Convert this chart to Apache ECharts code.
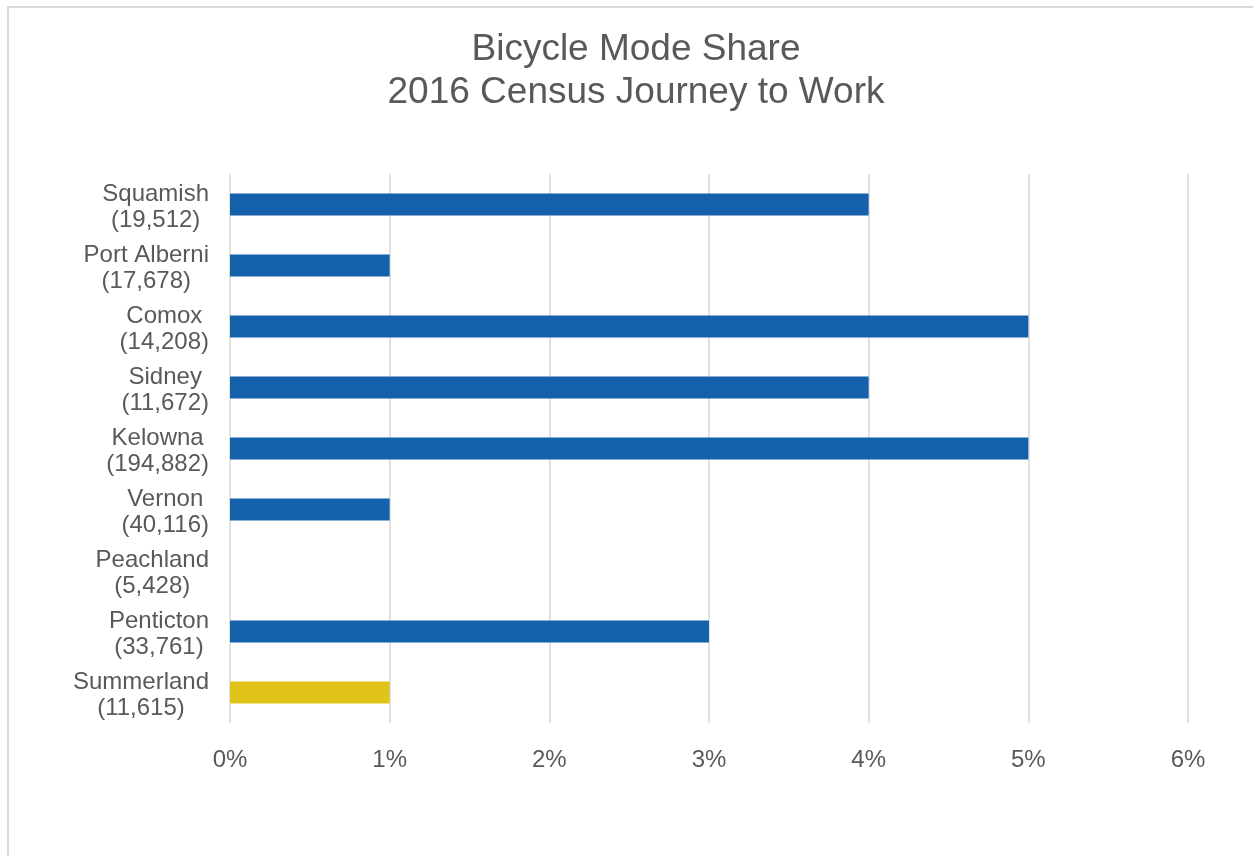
<!DOCTYPE html>
<html>
<head>
    <title>Bicycle Mode Share</title>
    <script src="https://cdn.jsdelivr.net/npm/echarts/dist/echarts.min.js"></script>
    <style>
        body { margin: 0; background: #fff; }
        #frame { position: absolute; left: 7px; top: 6px; width: 1260px; height: 870px; border: 2px solid #d9d9d9; box-sizing: border-box; }
        #main { position: absolute; left: 0; top: 0; width: 1253px; height: 856px; }
    </style>
</head>
<body>
    <div id="frame"></div>
    <div id="main"></div>
    <script>
        var towns = ['Squamish', 'Port Alberni', 'Comox', 'Sidney', 'Kelowna', 'Vernon', 'Peachland', 'Penticton', 'Summerland'];
        var populations = ['19,512', '17,678', '14,208', '11,672', '194,882', '40,116', '5,428', '33,761', '11,615'];
        var shares = [4, 1, 5, 4, 5, 1, 0, 3, 1];
        var highlightTown = 'Summerland';

        var chart = echarts.init(document.getElementById('main'));

        var labels = towns.map(function (t, i) { return t + '\n(' + populations[i] + ')'; });
        var barData = shares.map(function (v, i) {
            var d = { value: v };
            if (towns[i] === highlightTown) d.itemStyle = { color: '#e1c419' };
            return d;
        });

        var option = {
            backgroundColor: 'transparent',
            textStyle: { fontFamily: '"Liberation Sans", Arial, sans-serif' },
            title: {
                text: 'Bicycle Mode Share\n2016 Census Journey to Work',
                left: 631,
                top: 23,
                textAlign: 'center',
                textStyle: { fontSize: 37, lineHeight: 43, fontWeight: 'normal', color: '#595959' }
            },
            grid: { left: 230, right: 65, top: 174, bottom: 133, containLabel: false },
            xAxis: {
                type: 'value',
                min: 0,
                max: 6,
                interval: 1,
                axisLine: { show: false },
                axisTick: { show: false },
                axisLabel: {
                    formatter: '{value}%',
                    fontSize: 24,
                    color: '#595959',
                    margin: 17
                },
                splitLine: { lineStyle: { color: '#d9d9d9', width: 1.5 } }
            },
            yAxis: {
                type: 'category',
                inverse: true,
                data: labels,
                axisLine: { show: false },
                axisTick: { show: false },
                axisLabel: {
                    interval: 0,
                    showMinLabel: true,
                    showMaxLabel: true,
                    hideOverlap: false,
                    margin: 21,
                    padding: [5, 0, 0, 0],
                    formatter: function (v) {
                        var p = v.split('\n');
                        return '{a|' + p[0] + '}\n{a|' + p[1] + '}';
                    },
                    rich: {
                        a: { fontSize: 24, lineHeight: 26, color: '#595959', align: 'center' }
                    }
                }
            },
            series: [{
                type: 'bar',
                data: barData,
                barWidth: 22,
                itemStyle: { color: '#1560ab' },
                animation: false
            }]
        };

        chart.setOption(option);
    </script>
</body>
</html>
